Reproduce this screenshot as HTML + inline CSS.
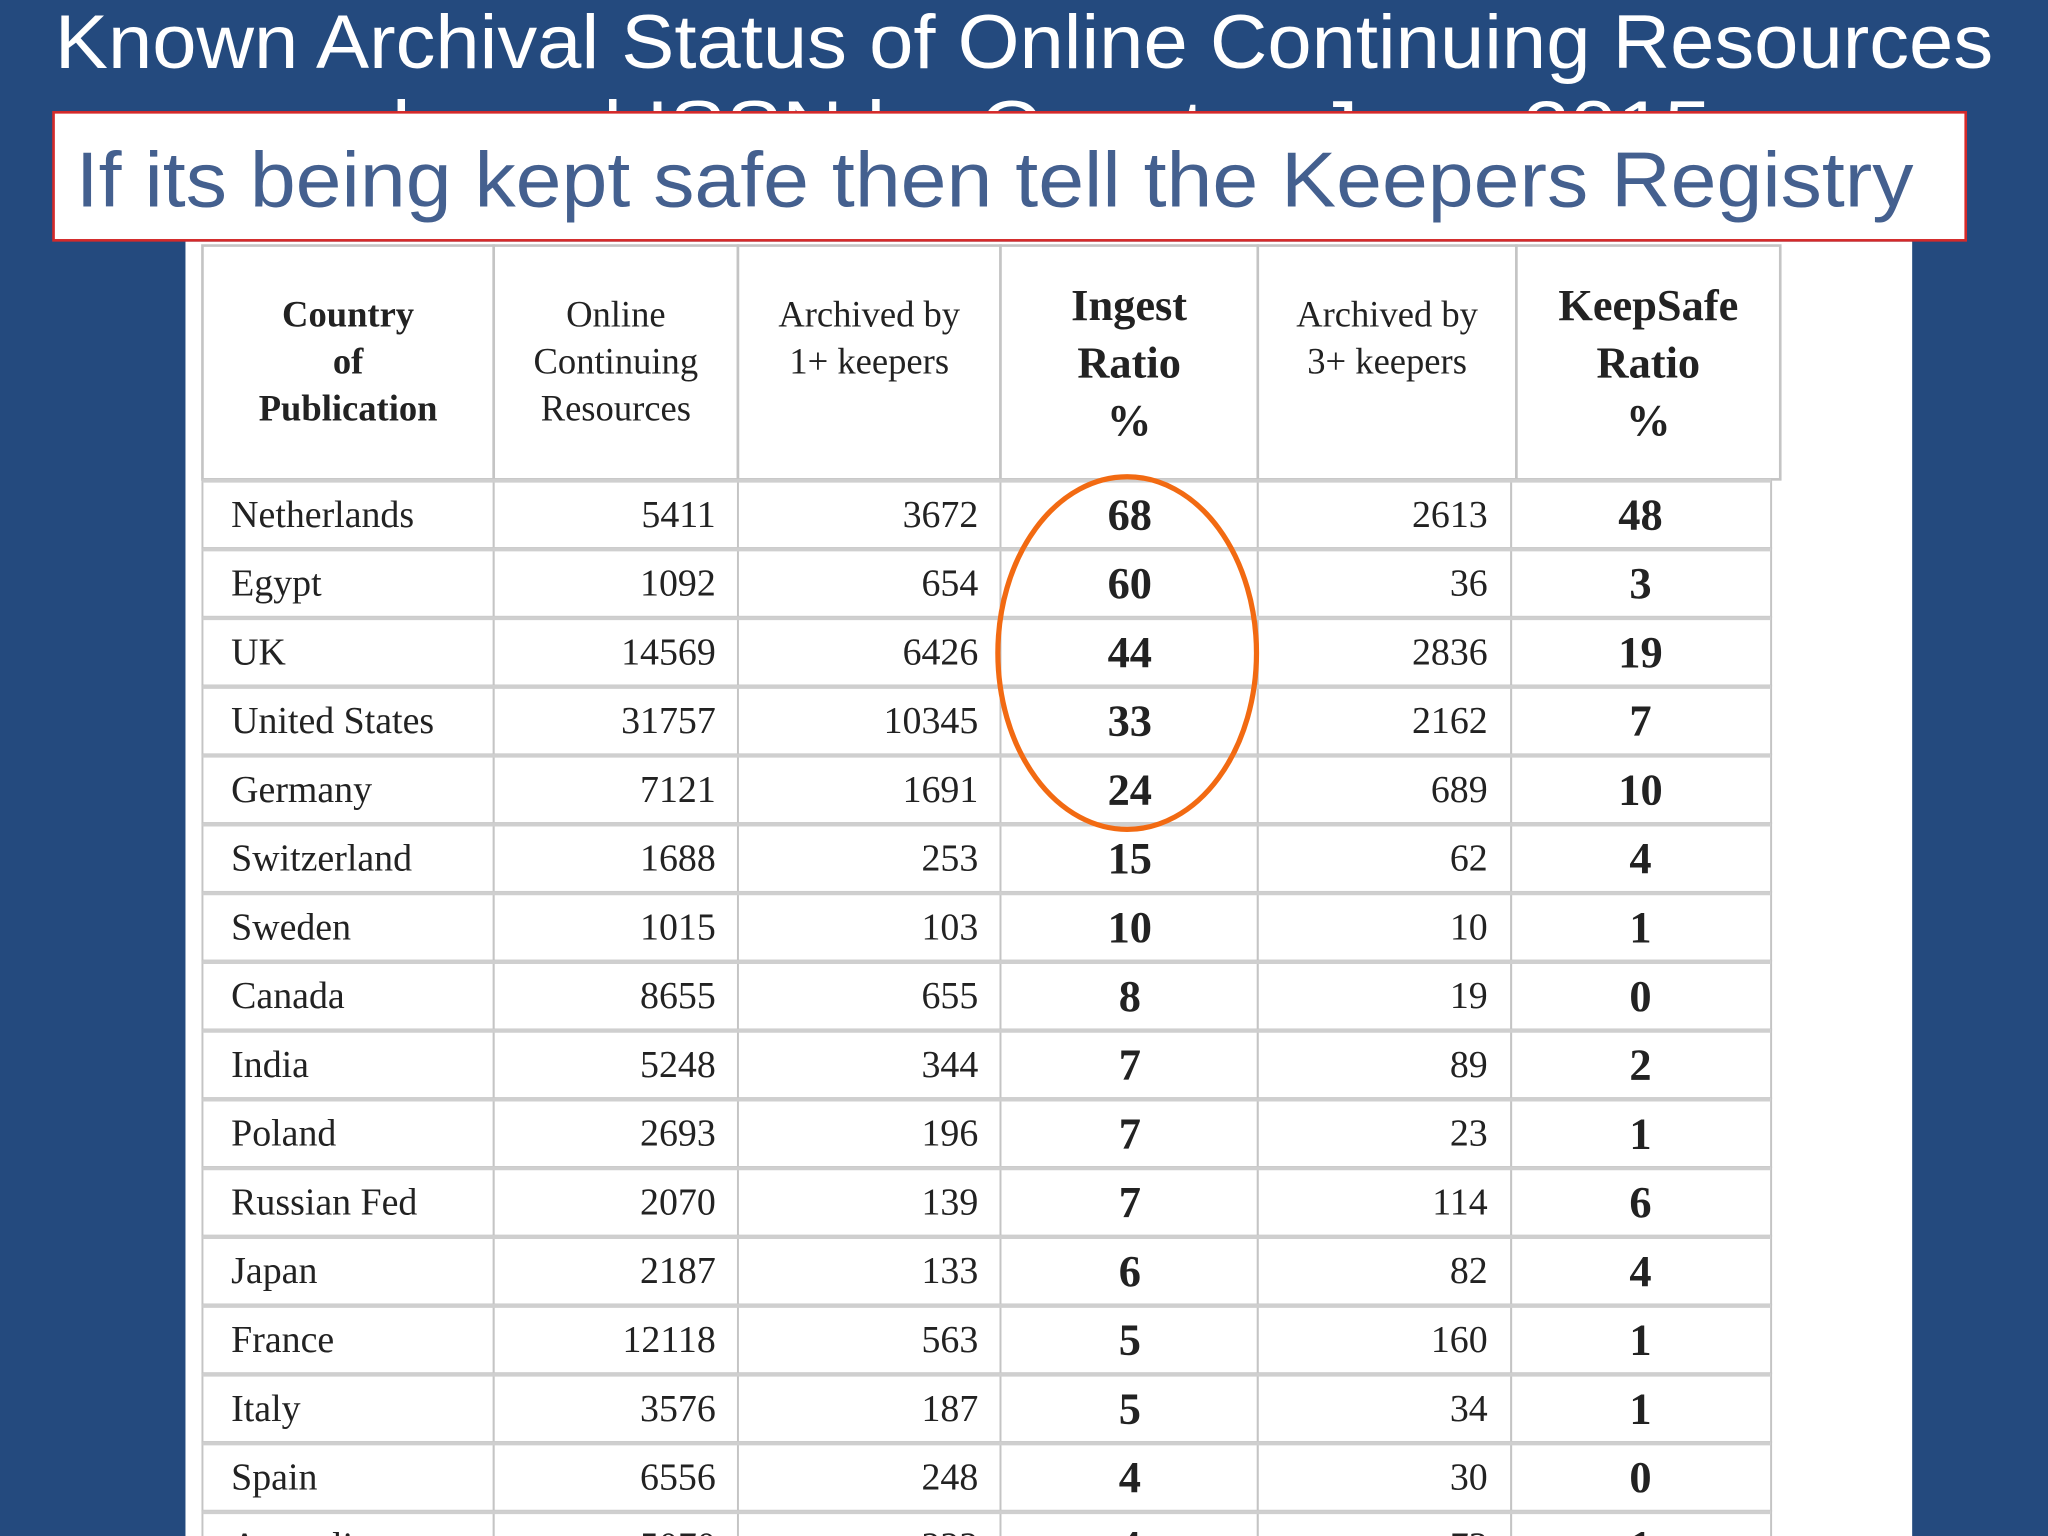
<!DOCTYPE html>
<html><head><meta charset="utf-8"><style>
html,body{margin:0;padding:0;background:#244a7e;}
svg{display:block;}
</style></head><body>
<svg id="slide" width="2048" height="1536" viewBox="0 0 1568 1176" xmlns="http://www.w3.org/2000/svg">
<rect x="0" y="0" width="1568" height="1176" fill="#244a7e"/>
<text x="42" y="52" font-family="Liberation Sans, sans-serif" font-size="58" fill="#ffffff" textLength="1484" lengthAdjust="spacingAndGlyphs">Known Archival Status of Online Continuing Resources</text>
<text x="300" y="118" font-family="Liberation Sans, sans-serif" font-size="58" fill="#ffffff" textLength="1010" lengthAdjust="spacingAndGlyphs">based ISSN by Country, June 2015</text>
<rect x="142" y="185" width="1322" height="991" fill="#ffffff"/>
<g id="table"></g>
<ellipse cx="863" cy="500" rx="99" ry="135" fill="none" stroke="#f26a12" stroke-width="4"/>
<rect x="41" y="86" width="1464" height="98" fill="#ffffff" stroke="#d42a2a" stroke-width="2"/>
<text x="58" y="158" font-family="Liberation Sans, sans-serif" font-size="60" fill="#44608f" textLength="1407" lengthAdjust="spacingAndGlyphs">If its being kept safe then tell the Keepers Registry</text>
</svg>
<script>
const countries = ["Netherlands","Egypt","UK","United States","Germany","Switzerland","Sweden","Canada","India","Poland","Russian Fed","Japan","France","Italy","Spain","Australia"];
const onlineResources = [5411,1092,14569,31757,7121,1688,1015,8655,5248,2693,2070,2187,12118,3576,6556,5070];
const archived1 = [3672,654,6426,10345,1691,253,103,655,344,196,139,133,563,187,248,222];
const ingestRatio = [68,60,44,33,24,15,10,8,7,7,7,6,5,5,4,4];
const archived3 = [2613,36,2836,2162,689,62,10,19,89,23,114,82,160,34,30,73];
const keepSafeRatio = [48,3,19,7,10,4,1,0,2,1,6,4,1,1,0,1];
const headers = [["Country","of","Publication"],["Online","Continuing","Resources"],["Archived by","1+ keepers"],["Ingest","Ratio","%"],["Archived by","3+ keepers"],["KeepSafe","Ratio","%"]];

const NS="http://www.w3.org/2000/svg";
const g=document.getElementById('table');
const hx=[155,378,565,766,963,1161,1363];
const bx=[155,378,565,766,963,1157,1356];
const top0=188, headBottom=367, rowH=52.65;
const rowY=i=>headBottom+i*rowH;
function el(tag,attrs,parent){const e=document.createElementNS(NS,tag);for(const k in attrs)e.setAttribute(k,attrs[k]);(parent||g).appendChild(e);return e;}
// header cells
headers.forEach((lines,c)=>{
  const cell=el('rect',{x:hx[c],y:top0,width:hx[c+1]-hx[c],height:headBottom-top0,fill:'#fff',stroke:'#c4c4c4','stroke-width':2});
  
  
  const bold=(c===0||c===3||c===5);
  const big=(c===3||c===5);
  const fs=big?34:28;
  const cx=(hx[c]+hx[c+1])/2;
  const startY=big?245:250;
  const lh=big?44:36;
  lines.forEach((ln,j)=>{
    const t=el('text',{x:cx,y:startY+j*lh,'text-anchor':'middle','font-family':'Liberation Serif, serif','font-size':fs,'font-weight':bold?'bold':'normal',fill:'#222'});
    t.textContent=ln;
    
    
  });
});
// body
countries.forEach((name,i)=>{
  const y=rowY(i);
  for(let c=0;c<6;c++){
    const r=el('rect',{x:bx[c],y:y,width:bx[c+1]-bx[c],height:rowH,fill:'#fff',stroke:'#c4c4c4','stroke-width':1.5});
    
    
  }
  const ln=el('line',{x1:bx[0],x2:bx[6],y1:y+1,y2:y+1,stroke:'#cfcfcf','stroke-width':3});
  
  
  const ty=y+rowH/2+10;
  const vals=[onlineResources[i],archived1[i],ingestRatio[i],archived3[i],keepSafeRatio[i]];
  const t0=el('text',{x:177,y:ty,'font-family':'Liberation Serif, serif','font-size':29,fill:'#222'});
  t0.textContent=name;
  
  
  const cfg=[[548,'end',false],[749,'end',false],[865,'middle',true],[1139,'end',false],[1256,'middle',true]];
  cfg.forEach(([x,anc,b],k)=>{
    const t=el('text',{x:x,y:ty+(b?2:0),'text-anchor':anc,'font-family':'Liberation Serif, serif','font-size':b?34:29,'font-weight':b?'bold':'normal',fill:'#222'});
    t.textContent=vals[k];
    
    
  });
});
</script>
</body></html>
